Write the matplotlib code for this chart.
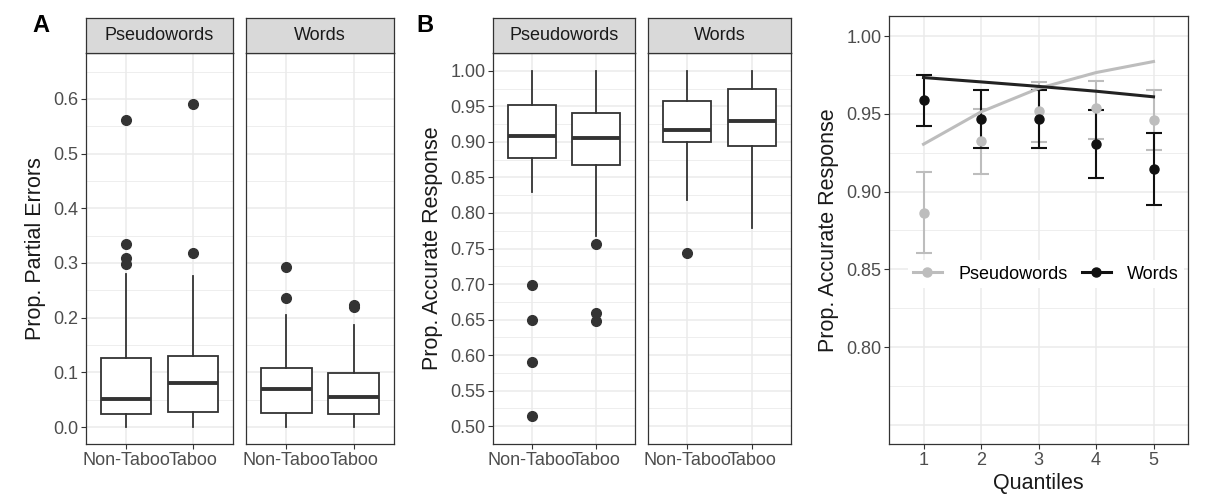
import matplotlib.pyplot as plt
from matplotlib.lines import Line2D
import numpy as np

W, H = 1206, 504

# box stats: (whisker low, q1, median, q3, whisker high)
conds = ['Non-Taboo', 'Taboo']
facets = ['Pseudowords', 'Words']

partial_pseudo = [(0.0, 0.023, 0.051, 0.127, 0.280), (0.0, 0.028, 0.080, 0.130, 0.276)]
partial_pseudo_out = [[0.561, 0.334, 0.3095, 0.299], [0.590, 0.3175]]
partial_words = [(0.0, 0.026, 0.070, 0.108, 0.205), (0.0, 0.024, 0.055, 0.098, 0.1865)]
partial_words_out = [[0.293, 0.236], [0.223, 0.219]]

acc_pseudo = [(0.829, 0.8774, 0.9087, 0.952, 1.0), (0.768, 0.868, 0.905, 0.9405, 1.0)]
acc_pseudo_out = [[0.698, 0.650, 0.591, 0.5145], [0.7566, 0.6597, 0.648]]
acc_words = [(0.8188, 0.8993, 0.9167, 0.958, 1.0), (0.7785, 0.8947, 0.930, 0.9743, 1.0)]
acc_words_out = [[0.743], []]

# panel C
quantiles = [1, 2, 3, 4, 5]
pw_mean = [0.8864, 0.9325, 0.9518, 0.9535, 0.9464]
pw_lo = [0.8603, 0.9113, 0.9320, 0.9336, 0.9267]
pw_hi = [0.9123, 0.9529, 0.9706, 0.9711, 0.9657]
pw_fit = [0.9305, 0.9513, 0.9664, 0.9766, 0.9837]
w_mean = [0.9587, 0.9466, 0.9466, 0.9304, 0.9145]
w_lo = [0.9421, 0.9278, 0.9278, 0.9089, 0.8915]
w_hi = [0.9751, 0.9653, 0.9656, 0.9524, 0.9378]
w_fit = [0.9734, 0.9706, 0.9677, 0.9646, 0.9610]

GRID = '#EBEBEB'
DARK = '#333333'
TXT = '#4D4D4D'
GREY = '#BDBDBD'
FS_TICK = 13
FS_TITLE = 15.5

plt.rcParams['font.family'] = ['Liberation Sans', 'DejaVu Sans']

fig = plt.figure(figsize=(W / 100, H / 100), dpi=100)


def rect(x0, x1, y0, y1):
    return [x0 / W, 1 - y1 / H, (x1 - x0) / W, (y1 - y0) / H]


def style(ax, yticks, yminor, ylim, show_y=True):
    ax.set_ylim(*ylim)
    ax.set_yticks(yticks)
    ax.set_yticks(yminor, minor=True)
    ax.grid(True, which='major', color=GRID, lw=1.1, zorder=0)
    ax.grid(True, which='minor', axis='y', color=GRID, lw=0.6, zorder=0)
    ax.tick_params(which='minor', length=0)
    ax.tick_params(which='major', length=3.5, width=0.8, color=DARK,
                   labelsize=FS_TICK, labelcolor=TXT, pad=2)
    for s in ax.spines.values():
        s.set_color(DARK)
        s.set_linewidth(0.9)
    ax.set_axisbelow(True)
    if not show_y:
        ax.tick_params(axis='y', which='both', left=False, labelleft=False)


def strip(x0, x1, label):
    sa = fig.add_axes(rect(x0, x1, 18, 53))
    sa.set_facecolor('#D9D9D9')
    sa.set_xticks([])
    sa.set_yticks([])
    for s in sa.spines.values():
        s.set_color(DARK)
        s.set_linewidth(0.9)
    sa.text(0.5, 0.5, label, ha='center', va='center', fontsize=FS_TICK, color='#1A1A1A')


def boxes(ax, stats, outs):
    data = []
    for st, o in zip(stats, outs):
        data.append(dict(whislo=st[0], q1=st[1], med=st[2], q3=st[3], whishi=st[4], fliers=o))
    ax.bxp(data, positions=[1, 2], widths=0.75, patch_artist=True, showcaps=False,
           boxprops=dict(facecolor='white', edgecolor=DARK, lw=1.3),
           medianprops=dict(color=DARK, lw=2.8),
           whiskerprops=dict(color=DARK, lw=1.3),
           flierprops=dict(marker='o', markerfacecolor=DARK, markeredgecolor=DARK, markersize=7))
    ax.set_xlim(0.4, 2.6)
    ax.set_xticks([1, 2])
    ax.set_xticklabels(conds)


# ---- panel A ----
ya = np.round(np.arange(0, 0.61, 0.1), 2)
yam = np.arange(0.05, 0.66, 0.1)
for i, (stats, outs, x0, x1) in enumerate([(partial_pseudo, partial_pseudo_out, 86, 233),
                                            (partial_words, partial_words_out, 246, 394)]):
    ax = fig.add_axes(rect(x0, x1, 53, 444))
    boxes(ax, stats, outs)
    style(ax, ya, yam, (-0.031, 0.684), show_y=(i == 0))
    if i == 0:
        ax.set_yticklabels([f'{v:.1f}' for v in ya])
        ax.set_ylabel('Prop. Partial Errors', fontsize=FS_TITLE, color='#1A1A1A', labelpad=5)
    strip(x0, x1, facets[i])
fig.text(32 / W, 1 - 26 / H, 'A', fontsize=17, fontweight='bold', va='center')

# ---- panel B ----
yb = np.round(np.arange(0.5, 1.001, 0.05), 2)
ybm = np.arange(0.475, 1.03, 0.05)
for i, (stats, outs, x0, x1) in enumerate([(acc_pseudo, acc_pseudo_out, 493, 635),
                                            (acc_words, acc_words_out, 648, 791)]):
    ax = fig.add_axes(rect(x0, x1, 53, 444))
    boxes(ax, stats, outs)
    style(ax, yb, ybm, (0.476, 1.025), show_y=(i == 0))
    if i == 0:
        ax.set_yticklabels([f'{v:.2f}' for v in yb])
        ax.set_ylabel('Prop. Accurate Response', fontsize=FS_TITLE, color='#1A1A1A', labelpad=5)
    strip(x0, x1, facets[i])
fig.text(416 / W, 1 - 26 / H, 'B', fontsize=17, fontweight='bold', va='center')

# ---- panel C ----
ax = fig.add_axes(rect(889, 1188, 16, 444))
yc = [0.80, 0.85, 0.90, 0.95, 1.00]
ycm = np.arange(0.775, 1.01, 0.05)
style(ax, yc, ycm, (0.7376, 1.013))
ax.axhline(0.75, color=GRID, lw=1.1, zorder=0)
ax.set_yticklabels([f'{v:.2f}' for v in yc])
ax.set_xlim(0.4, 5.6)
ax.set_xticks(quantiles)
ax.set_xlabel('Quantiles', fontsize=FS_TITLE, color='#1A1A1A', labelpad=3)
ax.set_ylabel('Prop. Accurate Response', fontsize=FS_TITLE, color='#1A1A1A', labelpad=5)

for mean, lo, hi, col in [(pw_mean, pw_lo, pw_hi, GREY), (w_mean, w_lo, w_hi, '#111111')]:
    mean = np.array(mean)
    err = [mean - np.array(lo), np.array(hi) - mean]
    ax.errorbar(quantiles, mean, yerr=err, fmt='o', color=col, ms=6.5, capsize=5.5,
                elinewidth=1.5, capthick=1.5, zorder=3)
ax.plot(quantiles, pw_fit, color=GREY, lw=2.2, zorder=4)
ax.plot(quantiles, w_fit, color='#222222', lw=2.2, zorder=4)

handles = [Line2D([], [], color=GREY, lw=2.2, marker='o', ms=6.5),
           Line2D([], [], color='#111111', lw=2.2, marker='o', ms=6.5)]
leg = ax.legend(handles, facets, loc='center left', bbox_to_anchor=(0.032, 0.397), ncol=2,
                frameon=True, fontsize=FS_TICK, handlelength=1.6, columnspacing=0.8,
                borderpad=0.3, handletextpad=0.9)
leg.get_frame().set_facecolor('white')
leg.get_frame().set_edgecolor('none')
leg.get_frame().set_alpha(1)
leg.set_zorder(5)

fig.savefig('out.png', dpi=100, facecolor='white')
